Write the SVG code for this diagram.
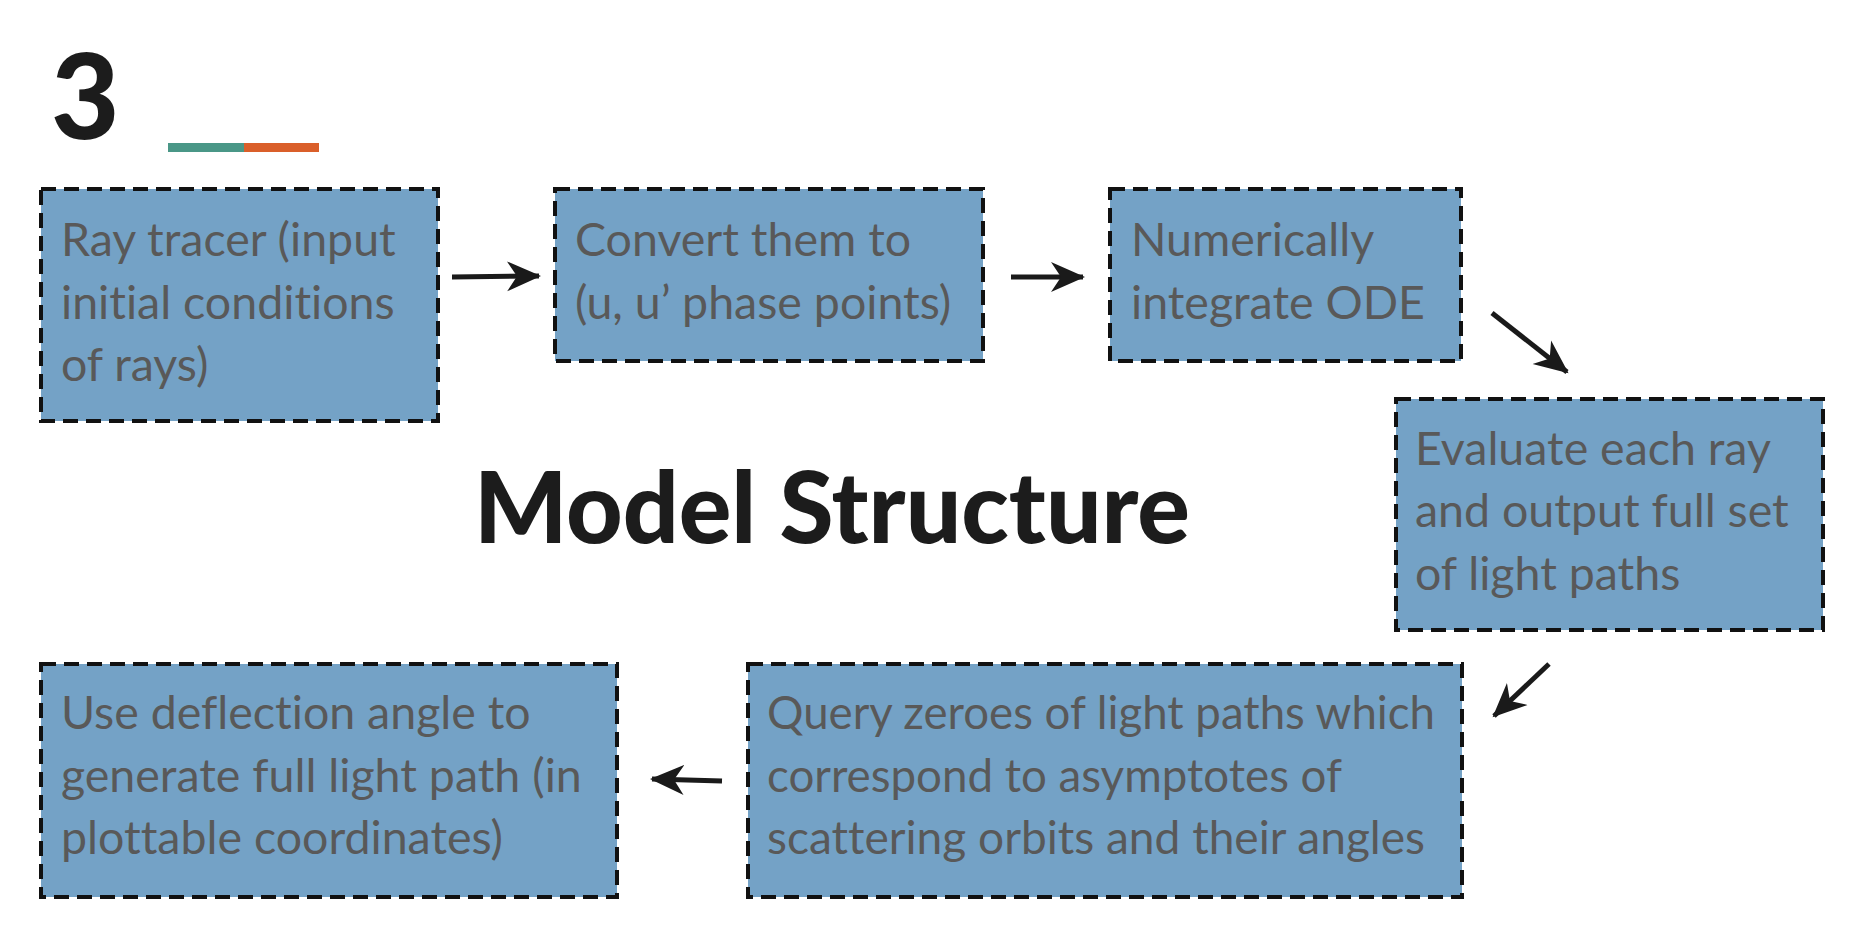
<svg xmlns="http://www.w3.org/2000/svg" width="1850" height="938" viewBox="0 0 1850 938">
<style>
.box{fill:#74a2c6;stroke:#111;stroke-width:4;stroke-dasharray:15 8}
.t{font-family:Lato,"Noto Sans",sans-serif;font-size:46.5px;fill:#595959;font-variant-ligatures:none}
.c{stroke:#1a1a1a;stroke-width:5;fill:none}
</style>
<defs>
<marker id="ah" viewBox="0 0 36 36" refX="32" refY="18" markerWidth="36" markerHeight="36" markerUnits="userSpaceOnUse" orient="auto">
<path d="M0,3 L34,18 L0,33 L10,18 Z" fill="#1a1a1a"/>
</marker>
</defs>
<rect width="1850" height="938" fill="#fff"/>
<g id="header">
<text x="51" y="139" font-family="Lato,sans-serif" font-weight="900" font-size="118" fill="#1c1c1c">3</text>
<rect x="168" y="143" width="76" height="9" fill="#4a9787"/>
<rect x="244" y="143" width="75" height="9" fill="#da5f2a"/>
</g>
<g id="title">
<text x="474" y="543" font-family="Lato,sans-serif" font-weight="900" font-size="100" fill="#1c1c1c" textLength="716" lengthAdjust="spacingAndGlyphs">Model Structure</text>
</g>
<g id="n1">
<rect class="box" x="41" y="189" width="397" height="232"/>
<text class="t" x="61" y="256">Ray tracer (input</text>
<text class="t" x="61" y="319">initial conditions</text>
<text class="t" x="61" y="381">of rays)</text>
</g>
<g id="n2">
<rect class="box" x="555" y="189" width="428" height="172"/>
<text class="t" x="575" y="256">Convert them to</text>
<text class="t" x="575" y="319">(u, u’ phase points)</text>
</g>
<g id="n3">
<rect class="box" x="1110" y="189" width="351" height="172"/>
<text class="t" x="1131" y="256">Numerically</text>
<text class="t" x="1131" y="319">integrate ODE</text>
</g>
<g id="n4">
<rect class="box" x="1396" y="399" width="427" height="231"/>
<text class="t" x="1415" y="465">Evaluate each ray</text>
<text class="t" x="1415" y="527">and output full set</text>
<text class="t" x="1415" y="590">of light paths</text>
</g>
<g id="n5">
<rect class="box" x="748" y="664" width="714" height="233"/>
<text class="t" x="767" y="729" textLength="668" lengthAdjust="spacingAndGlyphs">Query zeroes of light paths which</text>
<text class="t" x="767" y="792" textLength="575" lengthAdjust="spacingAndGlyphs">correspond to asymptotes of</text>
<text class="t" x="767" y="854" textLength="658" lengthAdjust="spacingAndGlyphs">scattering orbits and their angles</text>
</g>
<g id="n6">
<rect class="box" x="41" y="664" width="576" height="233"/>
<text class="t" x="61" y="729">Use deflection angle to</text>
<text class="t" x="61" y="792">generate full light path (in</text>
<text class="t" x="61" y="854">plottable coordinates)</text>
</g>
<g id="connectors">
<line class="c" x1="452" y1="277" x2="539" y2="276" marker-end="url(#ah)"/>
<line class="c" x1="1011" y1="277" x2="1083" y2="277" marker-end="url(#ah)"/>
<line class="c" x1="1492" y1="313" x2="1567" y2="372" marker-end="url(#ah)"/>
<line class="c" x1="1549" y1="664" x2="1494" y2="716" marker-end="url(#ah)"/>
<line class="c" x1="722" y1="781" x2="652" y2="779" marker-end="url(#ah)"/>
</g>
</svg>
